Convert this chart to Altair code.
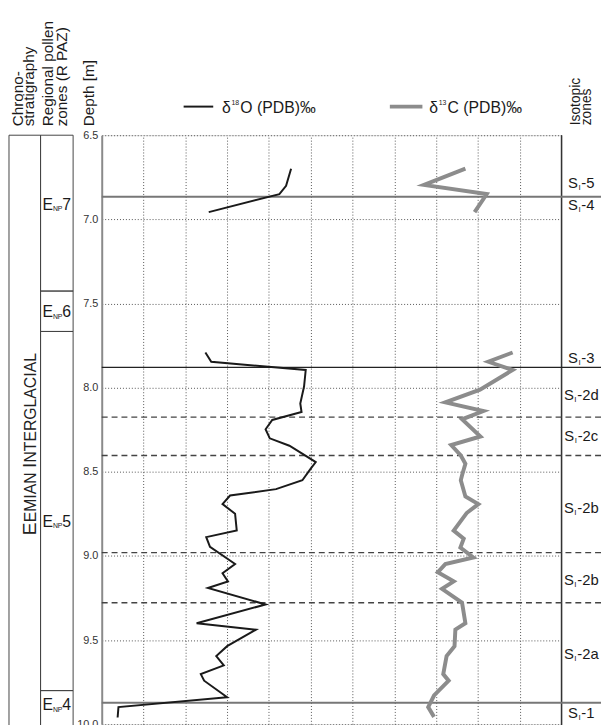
import altair as alt
import pandas as pd

FONT = "Liberation Sans"

# ---------------- data ----------------
# delta 18O (black) : depth [m], x position in grid units
o18_seg_a_depth = [6.699, 6.801, 6.85, 6.957]
o18_seg_a_val = [4.53, 4.41, 4.25, 2.56]
o18_seg_b_depth = [7.791, 7.846, 7.895, 7.993, 8.094, 8.145, 8.192, 8.247, 8.301, 8.345,
                   8.442, 8.481, 8.55, 8.603, 8.641, 8.692, 8.749, 8.849, 8.888, 8.946,
                   9.048, 9.103, 9.151, 9.19, 9.288, 9.40, 9.438, 9.536, 9.595, 9.65,
                   9.702, 9.741, 9.839, 9.898, 9.96]
o18_seg_b_val = [2.48, 2.62, 4.88, 4.84, 4.75, 4.78, 4.08, 3.92, 4.02, 4.49,
                 5.12, 5.0, 4.80, 4.17, 3.07, 2.89, 3.19, 3.23, 2.50, 2.59,
                 3.19, 2.89, 3.02, 2.54, 3.92, 2.27, 3.69, 3.0, 2.74, 2.92,
                 2.37, 2.45, 3.0, 0.40, 0.38]

# delta 13C (grey)
c13_seg_a_depth = [6.699, 6.795, 6.85, 6.957]
c13_seg_a_val = [8.70, 7.71, 9.21, 8.92]
c13_seg_b_depth = [7.791, 7.846, 7.895, 8.012, 8.087, 8.139, 8.188, 8.29, 8.341, 8.403,
                   8.452, 8.52, 8.55, 8.647, 8.692, 8.745, 8.849, 8.897, 8.95, 9.009,
                   9.048, 9.097, 9.151, 9.195, 9.278, 9.40, 9.438, 9.536, 9.595, 9.702,
                   9.741, 9.829, 9.898, 9.956]
c13_seg_b_val = [9.83, 9.25, 9.83, 9.05, 8.22, 9.13, 8.62, 9.06, 8.36, 8.59,
                 8.70, 8.62, 8.59, 8.70, 9.01, 8.73, 8.42, 8.66, 8.58, 8.89,
                 8.22, 8.04, 8.42, 8.14, 8.62, 8.70, 8.46, 8.44, 8.25, 8.17,
                 8.30, 7.95, 7.81, 7.95]

depth_ticks = [6.5, 7.0, 7.5, 8.0, 8.5, 9.0, 9.5, 10.0]
x_grid = [1, 2, 3, 4, 5, 6, 7, 8, 9, 10]

solid_grey_bounds = [6.865, 9.872]
solid_black_bounds = [7.879]
dashed_bounds = [8.175, 8.403, 8.98, 9.278]

iso_labels = ["5", "4", "3", "2d", "2c", "2b", "2b", "2a", "1"]
iso_depths = [6.785, 6.916, 7.823, 8.042, 8.286, 8.716, 9.144, 9.583, 9.935]

pollen_tops = [6.5, 7.426, 7.666, 9.80]
pollen_bottoms = [7.426, 7.666, 9.80, 10.05]
pollen_nums = ["7", "6", "5", "4"]
pollen_label_depths = [6.916, 7.553, 8.80, 9.888]

# ---------------- layout constants ----------------
W, H = 466, 597
yscale = alt.Scale(domain=[6.5, 10.0], reverse=True, nice=False, zero=False)
xscale = alt.Scale(domain=[0, 11], nice=False, zero=False)


def yenc(field="d"):
    return alt.Y(f"{field}:Q", scale=yscale, title=None,
                 axis=alt.Axis(values=depth_ticks, format=".1f", tickSize=0, labelPadding=4,
                               labelFontSize=11, labelFont=FONT, labelColor="#333",
                               domain=True, domainColor="#8a8a8a", domainWidth=2,
                               grid=True, gridDash=[1, 2], gridColor="#555", gridWidth=1))


def xenc(field="v"):
    return alt.X(f"{field}:Q", scale=xscale, title=None,
                 axis=alt.Axis(values=x_grid, labels=False, ticks=False, domain=False,
                               grid=True, gridDash=[1, 2], gridColor="#555", gridWidth=1))


layers = []

# grid / axes carrier
grid_df = pd.DataFrame({"v": [0, 11], "d": [6.5, 10.0]})
layers.append(alt.Chart(grid_df).mark_point(opacity=0).encode(x=xenc(), y=yenc()))

# right border of plot
layers.append(alt.Chart(pd.DataFrame({"d": [6.5], "d2": [10.05]})).mark_rule(
    color="#333", strokeWidth=1.5).encode(x=alt.value(W), y=yenc(), y2="d2:Q"))

# zone boundaries
def hrules(depths, color, width, dash=None):
    kw = dict(color=color, strokeWidth=width)
    if dash:
        kw["strokeDash"] = dash
    return alt.Chart(pd.DataFrame({"d": depths})).mark_rule(**kw).encode(
        y=yenc(), x=alt.value(0), x2=alt.value(W + 40))

layers.append(hrules(dashed_bounds, "#444", 1.3, [6, 4]))
layers.append(hrules(solid_grey_bounds, "#777", 2))
layers.append(hrules(solid_black_bounds, "#222", 1.3))

# left columns
chrono_df = pd.DataFrame({"d": [6.5], "d2": [10.05]})
layers.append(alt.Chart(chrono_df).mark_rect(fillOpacity=0, stroke="#444", strokeWidth=1).encode(
    y=yenc(), y2="d2:Q", x=alt.value(-94), x2=alt.value(-62)))
pollen_df = pd.DataFrame({"d": pollen_tops, "d2": pollen_bottoms})
layers.append(alt.Chart(pollen_df).mark_rect(fillOpacity=0, stroke="#444", strokeWidth=1).encode(
    y=yenc(), y2="d2:Q", x=alt.value(-62), x2=alt.value(-29)))

# data lines
rows = []
for seg, (ds, vs) in {"oa": (o18_seg_a_depth, o18_seg_a_val),
                      "ob": (o18_seg_b_depth, o18_seg_b_val)}.items():
    for d, v in zip(ds, vs):
        rows.append({"seg": seg, "d": d, "v": v})
o18_df = pd.DataFrame(rows)
rows = []
for seg, (ds, vs) in {"ca": (c13_seg_a_depth, c13_seg_a_val),
                      "cb": (c13_seg_b_depth, c13_seg_b_val)}.items():
    for d, v in zip(ds, vs):
        rows.append({"seg": seg, "d": d, "v": v})
c13_df = pd.DataFrame(rows)

layers.append(alt.Chart(c13_df).mark_line(color="#8c8c8c", strokeWidth=4, strokeJoin="miter").encode(
    x=xenc(), y=yenc(), detail="seg:N", order="d:Q"))
layers.append(alt.Chart(o18_df).mark_line(color="#1a1a1a", strokeWidth=2, strokeJoin="miter").encode(
    x=xenc(), y=yenc(), detail="seg:N", order="d:Q"))

# ---------------- text helpers ----------------
ARIAL_W = {"E": .667, "M": .833, "I": .278, "A": .667, "N": .722, "T": .611, "R": .722,
           "G": .778, "L": .556, "C": .722, " ": .278, "S": .667, "-": .333, "P": .667,
           "0": .556, "1": .556, "2": .556, "3": .556, "4": .556, "5": .556, "6": .556,
           "7": .556, "8": .556, "9": .556, "a": .556, "b": .556, "c": .5, "d": .556}


def tw(s, size):
    return sum(ARIAL_W.get(ch, .556) for ch in s) * size


def txt(s, x, y=None, depth=None, size=14, angle=0, baseline="middle", color="#1a1a1a"):
    kw = dict(text=s, fontSize=size, font=FONT, align="left", baseline=baseline, color=color)
    if angle:
        kw["angle"] = angle
    if depth is not None:
        return alt.Chart(pd.DataFrame({"d": [depth]})).mark_text(**kw).encode(
            x=alt.value(x), y=yenc())
    return alt.Chart(pd.DataFrame({"d": [0]})).mark_text(**kw).encode(
        x=alt.value(x), y=alt.value(y))

# headers (rotated)
hdr = 15.5
layers.append(txt("Chrono-", -80, y=-9, size=hdr, angle=270, baseline="alphabetic"))
layers.append(txt("stratigraphy", -68.5, y=-9, size=hdr, angle=270, baseline="alphabetic"))
layers.append(txt("Regional pollen", -49, y=-9, size=hdr, angle=270, baseline="alphabetic"))
layers.append(txt("zones (R PAZ)", -35.5, y=-9, size=hdr, angle=270, baseline="alphabetic"))
layers.append(txt("Depth [m]", -7.5, y=-9, size=hdr, angle=270, baseline="alphabetic"))
layers.append(txt("Isotopic", W + 19, y=-10, size=14, angle=270, baseline="alphabetic"))
layers.append(txt("zones", W + 30, y=-10, size=14, angle=270, baseline="alphabetic"))

# legend
LY = -29
layers.append(alt.Chart(pd.DataFrame({"d": [0]})).mark_rule(color="#1a1a1a", strokeWidth=2).encode(
    x=alt.value(83), x2=alt.value(113), y=alt.value(LY)))
layers.append(alt.Chart(pd.DataFrame({"d": [0]})).mark_rule(color="#8c8c8c", strokeWidth=4).encode(
    x=alt.value(292), x2=alt.value(325), y=alt.value(LY)))
layers.append(txt("δ", 122, y=LY + 1, size=16))
layers.append(txt("18", 131.5, y=LY - 4, size=7))
layers.append(txt("O (PDB)‰", 140.5, y=LY + 1, size=16))
layers.append(txt("δ", 332, y=LY + 1, size=16))
layers.append(txt("13", 341.5, y=LY - 4, size=7))
layers.append(txt("C (PDB)‰", 350.5, y=LY + 1, size=16))

# isotopic zone labels (S subscript I - n), centred in right column
col_c = W + 20
FS = 15
for lab, d in zip(iso_labels, iso_depths):
    total = tw("S", FS) + 3.5 + tw("-" + lab, FS)
    x0 = col_c - total / 2
    layers.append(txt("S", x0, depth=d, size=FS))
    layers.append(txt("I", x0 + tw("S", FS) + 0.5, depth=d + 0.03, size=8))
    layers.append(txt("-" + lab, x0 + tw("S", FS) + 3.5, depth=d, size=FS))

# pollen zone labels E_NP n
for num, d in zip(pollen_nums, pollen_label_depths):
    layers.append(txt("E", -60, depth=d, size=16))
    layers.append(txt("NP", -49.5, depth=d + 0.025, size=7))
    layers.append(txt(num, -40, depth=d, size=16))

# EEMIAN INTERGLACIAL in small caps, rotated
L, s = 19.5, 16
pieces = [("E", L), ("EMIAN ", s), ("I", L), ("NTERGLACIAL", s)]
total = sum(tw(p, f) for p, f in pieces)
ystart = 445 - 132 + total / 2
for p, f in pieces:
    layers.append(txt(p, -67, y=ystart, size=f, angle=270, baseline="alphabetic", color="#222"))
    ystart -= tw(p, f)

chart = alt.layer(*layers).properties(
    width=W, height=H,
    autosize=alt.AutoSizeParams(type="none"),
    padding={"left": 95, "top": 124, "right": 40, "bottom": 10},
).configure_view(stroke=None).configure(background="white")

chart.save("out.html", embed_options={"renderer": "svg", "actions": False})
